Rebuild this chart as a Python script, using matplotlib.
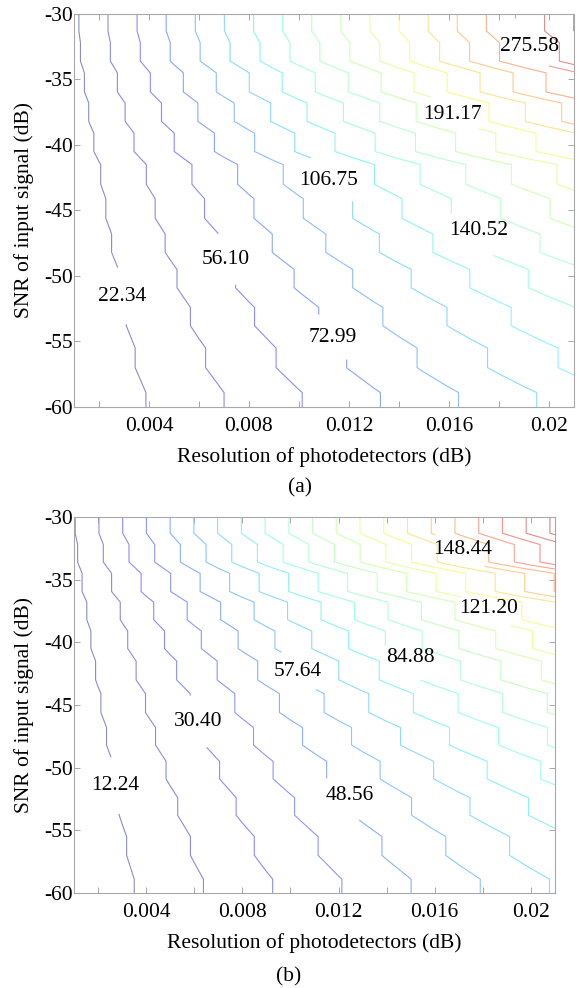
import numpy as np
import matplotlib
matplotlib.use("Agg")
import matplotlib.pyplot as plt
from matplotlib.ticker import MultipleLocator, FixedLocator
from matplotlib import cm

plt.rcParams['font.family'] = ['Liberation Serif', 'DejaVu Serif']
plt.rcParams['axes.unicode_minus'] = False

# ---------------- data ----------------
# photodetector resolution grid (dB)
resolution = np.linspace(0.001, 0.021, 21)
# SNR rows (dB) at which the computed surface is sampled (stepped structure)
snr_rows = [-60, -58.9, -57.0, -55.5, -53.8, -52.4, -50.9, -49.5, -48.2, -46.8, -45.6, -44.1,
            -43.0, -41.5, -40.5, -39.1, -38.2, -36.8, -35.95, -34.5, -33.6, -32.2, -31.3, -30]

# panel (a): growth of the plotted quantity per unit resolution in each SNR row, and offset
a_slope = [5400, 5400, 5988, 5988, 6579, 6579, 7209, 7209, 7881, 7881, 8550, 8550,
           9250, 9250, 10500, 10500, 11600, 11600, 12800, 12800, 14100, 14100, 14500, 14500]
a_offset = [1.4, 1.4, 1.7, 1.7, 2.0, 2.0, 2.3, 2.3, 2.6, 2.6, 2.9, 2.9,
            3.2, 3.2, 3.5, 3.5, 3.9, 3.9, 4.2, 4.2, 4.6, 4.6, 5.0, 5.0]
a_levels = [22.34, 39.22, 56.10, 72.99, 89.87, 106.75, 123.64, 140.52, 157.40,
            174.29, 191.17, 208.05, 224.93, 241.82, 258.70, 275.58, 292.46, 309.35]
a_range = (22.34, 309.35)
a_labels = [22.34, 56.10, 72.99, 106.75, 140.52, 191.17, 275.58]
a_label_pos = [(0.00323, -51.3), (0.00726, -48.4), (0.01142, -54.5), (0.01134, -42.7),
               (0.01715, -46.7), (0.01609, -37.7), (0.01904, -32.5)]

# panel (b)
b_slope = [3155, 3155, 3421, 3421, 3735, 3735, 4080, 4080, 4457, 4457, 4891, 4891,
           5388, 5388, 5933, 5933, 6525, 6525, 7400, 7400, 8500, 8500, 9200, 9200]
b_offset = [1.18, 1.18, 1.33, 1.33, 1.48, 1.48, 1.62, 1.62, 1.75, 1.75, 1.88, 1.88,
            2.01, 2.01, 2.13, 2.13, 2.24, 2.24, 2.35, 2.35, 2.46, 2.46, 2.57, 2.57]
b_levels = [12.24, 21.32, 30.40, 39.48, 48.56, 57.64, 66.72, 75.80, 84.88, 93.96,
            103.04, 112.12, 121.20, 130.28, 139.36, 148.44, 157.52, 166.60, 175.68, 184.76, 193.84]
b_range = (12.24, 193.84)
b_labels = [12.24, 30.40, 48.56, 57.64, 84.88, 121.20, 148.44]
b_label_pos = [(0.00289, -51.3), (0.00619, -46.3), (0.01248, -52.2), (0.01059, -42.3),
               (0.01496, -41.4), (0.01806, -37.3), (0.01720, -32.6)]

x_ticks = [0.004, 0.008, 0.012, 0.016, 0.02]
x_ticklabels = ['0.004', '0.008', '0.012', '0.016', '0.02']
y_ticks = [-60, -55, -50, -45, -40, -35, -30]
y_ticklabels = ['-60', '-55', '-50', '-45', '-40', '-35', '-30']

FS = 15.5


def surface(slope, offset):
    return np.asarray(slope)[:, None] * resolution[None, :] + np.asarray(offset)[:, None]


def pale(level, rng):
    c = np.array(cm.jet((level - rng[0]) / (rng[1] - rng[0]))[:3])
    return tuple(0.45 * c + 0.55)


def panel(ax, slope, offset, levels, rng, lab_levels, lab_pos):
    Z = surface(slope, offset)
    X, Y = np.meshgrid(resolution, snr_rows)
    plain = [l for l in levels if l not in lab_levels]
    ax.contour(X, Y, Z, levels=plain, colors=[pale(l, rng) for l in plain], linewidths=0.8)
    cs = ax.contour(X, Y, Z, levels=lab_levels, colors=[pale(l, rng) for l in lab_levels],
                    linewidths=0.8)
    texts = ax.clabel(cs, manual=lab_pos, inline=True, inline_spacing=5,
                      fmt='%.2f', fontsize=FS, colors='black')
    for t in texts:
        t.set_rotation(0)
    ax.set_xlim(0.001, 0.021)
    ax.set_ylim(-60, -30)
    ax.xaxis.set_major_locator(FixedLocator(x_ticks))
    ax.set_xticklabels(x_ticklabels)
    ax.xaxis.set_minor_locator(MultipleLocator(0.002))
    ax.yaxis.set_major_locator(FixedLocator(y_ticks))
    ax.set_yticklabels(y_ticklabels)
    ax.tick_params(which='both', direction='in', top=True, right=True,
                   length=4, width=0.6, color='#9a9a9a', labelsize=FS)
    ax.tick_params(axis='x', pad=7)
    ax.tick_params(axis='y', pad=1)
    for s in ax.spines.values():
        s.set_color('#a8a8a8')
        s.set_linewidth(0.8)
    ax.set_xlabel('Resolution of photodetectors (dB)', fontsize=FS, labelpad=8)
    ax.set_ylabel('SNR of input signal (dB)', fontsize=FS, labelpad=7)


fig = plt.figure(figsize=(5.83, 9.88), dpi=100)
ax1 = fig.add_axes([0.1269, 0.5881, 0.8576, 0.3978])
ax2 = fig.add_axes([0.1269, 0.0962, 0.8250, 0.3806])
panel(ax1, a_slope, a_offset, a_levels, a_range, a_labels, a_label_pos)
panel(ax2, b_slope, b_offset, b_levels, b_range, b_labels, b_label_pos)
fig.text(0.5146, 0.5061, '(a)', ha='center', va='center', fontsize=FS)
fig.text(0.4957, 0.0111, '(b)', ha='center', va='center', fontsize=FS)
fig.savefig('out.png', dpi=100)
